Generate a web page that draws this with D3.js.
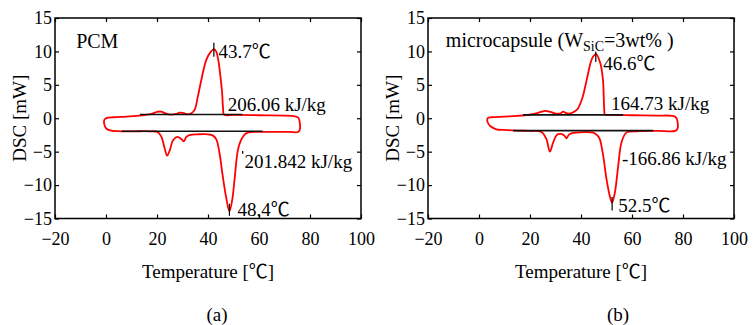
<!DOCTYPE html>
<html>
<head>
<meta charset="utf-8">
<script src="https://cdn.jsdelivr.net/npm/d3@7"></script>
<style>
  body { margin: 0; background: #fff; }
</style>
</head>
<body>
<div id="app"></div>
<script>
// axis ticks shared by both panels
const xTicks = [-20, 0, 20, 40, 60, 80, 100];
const yTicks = [-15, -10, -5, 0, 5, 10, 15];

// (a) PCM - heating trace (lower branch, left to right)
const pcmHeatT = [0.3, 2, 6, 11, 17, 20.2, 21.7, 23, 24, 25, 26.3, 28, 29.5, 30.5, 31.5, 33, 36, 40, 42, 43.3, 44.5, 45.8, 47.1, 48.4, 49.5, 50.4, 51.7, 52.9, 55, 58, 65, 72, 75.3];
const pcmHeatV = [-1.6, -1.85, -1.95, -1.95, -1.95, -2.05, -2.75, -4.5, -5.6, -4.8, -3.3, -2.8, -3.1, -3.45, -2.8, -2.5, -2.4, -2.4, -2.6, -3.2, -5.2, -8.7, -11.8, -13.9, -12.2, -9.2, -4.8, -3.3, -2.25, -2.05, -2.05, -2.05, -2.05];
// (a) PCM - cooling trace (upper branch, right to left)
const pcmCoolT = [76.0, 76.0, 75.4, 73, 60, 50, 46.3, 45.9, 45.5, 44.8, 44.0, 43.2, 42.3, 41.2, 39.3, 37.4, 36, 34.8, 33.5, 32, 30.5, 29, 27.5, 25.5, 23.5, 21.5, 20, 17.5, 13, 8, 3, 0.3, -0.7, -0.6];
const pcmCoolV = [-1.7, -0.7, 0.1, 0.35, 0.45, 0.5, 0.55, 1.5, 4, 6.5, 8.8, 10.0, 10.35, 10.0, 8.7, 5.75, 3.2, 1.3, 0.75, 0.6, 0.75, 0.85, 0.65, 0.55, 0.7, 1.0, 0.95, 0.6, 0.4, 0.25, 0.15, 0.05, -0.3, -1.0];

// (b) microcapsule - heating trace
const capHeatT = [4.5, 6.8, 10, 15, 20, 24.5, 26.4, 27.8, 29.1, 30.5, 32, 33.5, 34.3, 35.3, 37, 40, 44.8, 46.5, 47.4, 48.7, 50, 51.4, 52.2, 53.3, 54.6, 55.9, 57.8, 62, 70, 77];
const capHeatV = [-1.2, -1.65, -1.75, -1.85, -1.9, -2.05, -3.1, -5.0, -3.6, -2.5, -2.35, -2.6, -3.0, -2.45, -2.2, -2.1, -2.15, -2.6, -3.15, -5.6, -9.1, -11.8, -12.6, -11.1, -7.1, -3.6, -2.15, -1.95, -1.9, -1.9];
// (b) microcapsule - cooling trace
const capCoolT = [77.8, 77.9, 77.3, 76, 70, 60, 52, 49.4, 49.1, 48.6, 47.5, 45.9, 44.7, 43.8, 42.3, 40.5, 38.6, 37, 35.5, 34, 33, 32, 30, 28, 26, 24, 21, 15, 10, 5, 3.5, 3.3];
const capCoolV = [-1.6, -0.6, 0.1, 0.35, 0.4, 0.45, 0.5, 0.55, 1.4, 5.8, 8.35, 9.6, 9.2, 8.35, 5.85, 3.0, 1.35, 0.9, 0.7, 0.8, 1.0, 0.75, 0.7, 0.95, 1.1, 0.9, 0.6, 0.35, 0.25, 0.15, 0.05, -0.5];

// integration baselines [T start, T end, level]
const pcmBase = [[13.3, 53.5, 0.55], [6.1, 61.4, -1.95]];
const capBase = [[17.3, 56.5, 0.5], [13.4, 68.3, -1.85]];

// peak markers [T, v top, v bottom]
const pcmPeaks = [[42.3, 11.3, 9.2], [48.4, -12.8, -14.6], [53.6, -4.9, -5.3]];
const capPeaks = [[45.8, 10.0, 8.4], [52.2, -11.8, -13.8]];

// annotations [text, T, v]
const pcmNotes = [["43.7℃", 44.1, 9.0], ["206.06 kJ/kg", 47.7, 1.1], ["201.842 kJ/kg", 54.3, -7.45], ["48,4℃", 51.6, -14.65]];
const capNotes = [["46.6℃", 48.7, 7.2], ["164.73 kJ/kg", 51.8, 1.2], ["-166.86 kJ/kg", 56.1, -7.0], ["52.5℃", 54.6, -14.1]];

const width = 753, height = 325;
const plotTop = 18, plotBottom = 218.5;

const svg = d3.select("#app").append("svg")
    .attr("width", width)
    .attr("height", height)
    .attr("font-family", "'Liberation Serif', 'Times New Roman', Times, 'Noto Sans CJK SC', serif");

function drawPanel(cfg) {
    const x = d3.scaleLinear().domain([-20, 100]).range([cfg.left, cfg.right]);
    const y = d3.scaleLinear().domain([-15, 15]).range([plotBottom, plotTop]);
    const g = svg.append("g");

    // curve as one closed loop: heating branch then cooling branch
    const pts = cfg.heatT.map((t, i) => [t, cfg.heatV[i]])
        .concat(cfg.coolT.map((t, i) => [t, cfg.coolV[i]]));
    const line = d3.line()
        .x(d => x(d[0]))
        .y(d => y(d[1]))
        .curve(d3.curveCatmullRomClosed.alpha(0.5));
    g.append("path")
        .attr("d", line(pts))
        .attr("fill", "none")
        .attr("stroke", "#ff0000")
        .attr("stroke-width", 1.8);

    g.selectAll(".base")
        .data(cfg.base)
        .join("line")
        .attr("x1", d => x(d[0]))
        .attr("x2", d => x(d[1]))
        .attr("y1", d => y(d[2]))
        .attr("y2", d => y(d[2]))
        .attr("stroke", "#111")
        .attr("stroke-width", 1.6);

    g.selectAll(".peak")
        .data(cfg.peaks)
        .join("line")
        .attr("x1", d => x(d[0]))
        .attr("x2", d => x(d[0]))
        .attr("y1", d => y(d[1]))
        .attr("y2", d => y(d[2]))
        .attr("stroke", "#000")
        .attr("stroke-width", 1.2);

    // inward ticks on all four sides
    const axes = [
        [d3.axisBottom(x), 0, plotBottom, xTicks, "x"],
        [d3.axisTop(x), 0, plotTop, xTicks, null],
        [d3.axisLeft(y), cfg.left, 0, yTicks, "y"],
        [d3.axisRight(y), cfg.right, 0, yTicks, null]
    ];
    axes.forEach(([ax, tx, ty, ticks, labels]) => {
        ax.tickValues(ticks).tickSize(-4);
        if (!labels) ax.tickFormat("");
        const a = g.append("g")
            .attr("transform", `translate(${tx},${ty})`)
            .call(ax);
        a.attr("font-family", null);
        a.select(".domain").remove();
        a.selectAll("line").attr("stroke", "#000").attr("stroke-width", 1.2);
        a.selectAll("text").attr("font-size", 18).attr("fill", "#000");
        if (labels === "x") a.selectAll("text").attr("y", 14);
        if (labels === "y") a.selectAll("text").attr("x", -3);
    });

    g.append("rect")
        .attr("x", cfg.left)
        .attr("y", plotTop)
        .attr("width", cfg.right - cfg.left)
        .attr("height", plotBottom - plotTop)
        .attr("fill", "none")
        .attr("stroke", "#000")
        .attr("stroke-width", 1.5);

    const title = g.append("text")
        .attr("x", x(cfg.titleT))
        .attr("y", y(cfg.titleV))
        .attr("font-size", 20);
    cfg.title.forEach(([s, shift, size]) => {
        const span = title.append("tspan").text(s);
        if (shift) span.attr("dy", shift);
        if (size) span.attr("font-size", size);
    });

    g.selectAll(".note")
        .data(cfg.notes)
        .join("text")
        .attr("x", d => x(d[1]))
        .attr("y", d => y(d[2]))
        .attr("font-size", 19)
        .text(d => d[0]);

    g.append("text")
        .attr("x", (cfg.left + cfg.right) / 2)
        .attr("y", 278)
        .attr("text-anchor", "middle")
        .attr("font-size", 19)
        .text("Temperature [℃]");

    g.append("text")
        .attr("transform", `translate(${cfg.left - 29},${(plotTop + plotBottom) / 2}) rotate(-90)`)
        .attr("text-anchor", "middle")
        .attr("font-size", 19)
        .text("DSC [mW]");

    g.append("text")
        .attr("x", cfg.capX)
        .attr("y", 321)
        .attr("text-anchor", "middle")
        .attr("font-size", 19)
        .text(cfg.caption);
}

drawPanel({
    left: 55, right: 361,
    heatT: pcmHeatT, heatV: pcmHeatV, coolT: pcmCoolT, coolV: pcmCoolV,
    base: pcmBase, peaks: pcmPeaks, notes: pcmNotes,
    title: [["PCM"]], titleT: -11.7, titleV: 10.55,
    caption: "(a)", capX: 217
});

drawPanel({
    left: 428, right: 734,
    heatT: capHeatT, heatV: capHeatV, coolT: capCoolT, coolV: capCoolV,
    base: capBase, peaks: capPeaks, notes: capNotes,
    title: [["microcapsule (W"], ["SiC", 4, 14], ["=3wt% )", -4]], titleT: -13, titleV: 10.6,
    caption: "(b)", capX: 618
});
</script>
</body>
</html>
